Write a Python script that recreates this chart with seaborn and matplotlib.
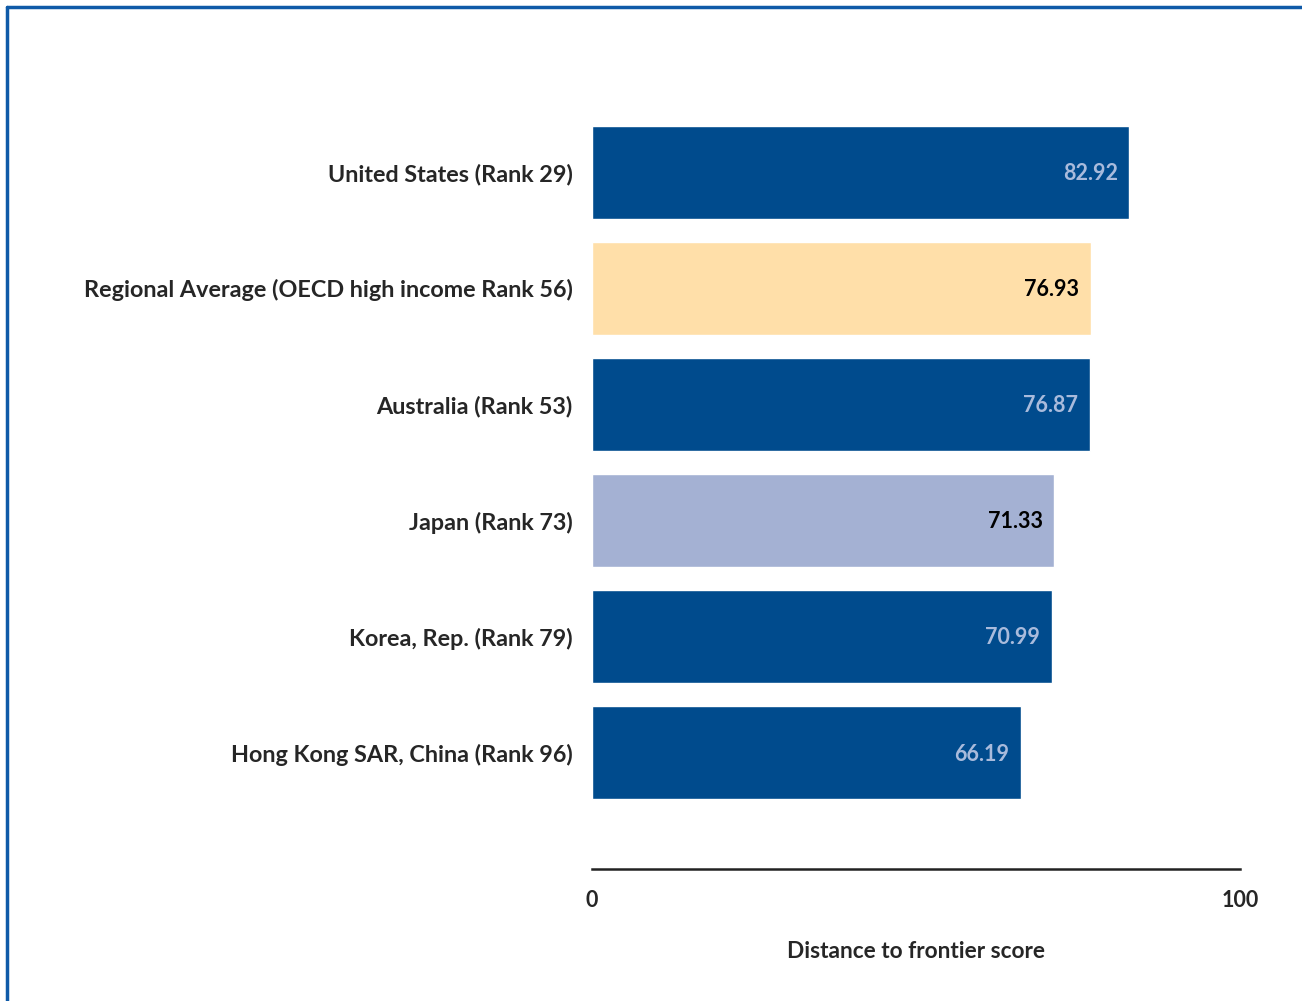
import matplotlib
matplotlib.use("Agg")
import matplotlib.pyplot as plt
import seaborn as sns
import pandas as pd
from matplotlib.lines import Line2D

# data
economies = ['United States (Rank 29)',
             'Regional Average (OECD high income Rank 56)',
             'Australia (Rank 53)',
             'Japan (Rank 73)',
             'Korea, Rep. (Rank 79)',
             'Hong Kong SAR, China (Rank 96)']
scores = [82.92, 76.93, 76.87, 71.33, 70.99, 66.19]
x_ticks = [0, 100]
bar_colors = ['#004B8D', '#FFDFA9', '#004B8D', '#A4B1D3', '#004B8D', '#004B8D']
label_colors = ['#A9BBDC', '#000000', '#A9BBDC', '#000000', '#A9BBDC', '#A9BBDC']

df = pd.DataFrame({'economy': economies, 'score': scores})

sns.set_style('white')
plt.rcParams['font.family'] = ['Lato', 'DejaVu Sans']
plt.rcParams['font.weight'] = 'bold'

fig = plt.figure(figsize=(13.02, 10.01), dpi=100)
ax = fig.add_axes([592 / 1302, 1 - 869 / 1001, 648 / 1302, (869 - 56) / 1001])

sns.barplot(data=df, x='score', y='economy', hue='economy', palette=bar_colors,
            legend=False, width=0.8, saturation=1, ax=ax)

for i, (v, c) in enumerate(zip(scores, label_colors)):
    ax.text(v - 1.8, i + 0.01, f'{v:.2f}', ha='right', va='center', color=c,
            fontsize=15.5, fontweight='bold')

ax.set_xlim(0, 100)
ax.set_ylim(6.0, -1.0)
ax.set_xticks(x_ticks, labels=[str(t) for t in x_ticks], fontsize=15.5, fontweight='bold')
ax.tick_params(axis='x', length=0, pad=15)
ax.tick_params(axis='y', length=0, pad=14)
for lab in ax.get_yticklabels():
    lab.set_fontsize(16.8)
    lab.set_fontweight('bold')
ax.set_ylabel('')
ax.set_xlabel('Distance to frontier score', fontsize=16.3, fontweight='bold', labelpad=22)

for s in ['top', 'right', 'left']:
    ax.spines[s].set_visible(False)
ax.spines['bottom'].set_color('#222222')
ax.spines['bottom'].set_linewidth(1.8)

# frame lines of the original panel (top and left edges)
fig.add_artist(Line2D([7 / 1302, 1], [1 - 7 / 1001, 1 - 7 / 1001], color='#0F5AA8', lw=2.5))
fig.add_artist(Line2D([7 / 1302, 7 / 1302], [0, 1 - 7 / 1001], color='#0F5AA8', lw=2.5))

fig.savefig('out.png', dpi=100)
